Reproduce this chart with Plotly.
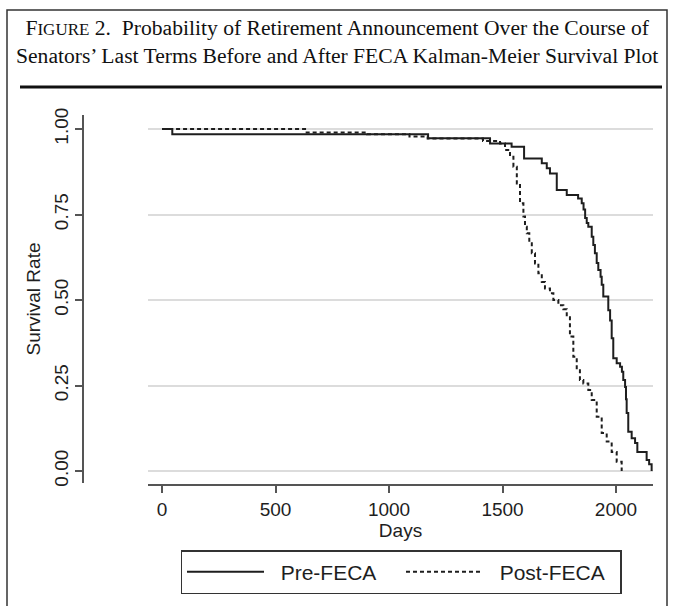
import plotly.graph_objects as go

# ---- data ----
pre_days = [0, 45, 1172, 1445, 1540, 1595, 1673, 1695, 1709, 1739, 1783, 1833, 1849,
            1857, 1864, 1871, 1878, 1893, 1900, 1907, 1915, 1922, 1932, 1937, 1944,
            1966, 1974, 1981, 1988, 2003, 2018, 2026, 2032, 2040, 2044, 2047, 2054,
            2069, 2084, 2094, 2135, 2146, 2157]
pre_surv = [1.0, 0.985, 0.973, 0.958, 0.948, 0.914, 0.900, 0.885, 0.870, 0.822, 0.807, 0.797, 0.783,
            0.765, 0.740, 0.725, 0.714, 0.685, 0.661, 0.637, 0.608, 0.588, 0.568, 0.545, 0.51,
            0.47, 0.44, 0.388, 0.33, 0.315, 0.305, 0.29, 0.266, 0.246, 0.21, 0.17, 0.115,
            0.096, 0.082, 0.056, 0.032, 0.02, 0.0]

post_days = [0, 630, 903, 1090, 1170, 1414, 1489, 1511, 1533, 1548, 1563, 1577, 1592,
             1599, 1607, 1618, 1629, 1643, 1658, 1673, 1687, 1709, 1724, 1746, 1768,
             1783, 1797, 1812, 1827, 1841, 1856, 1878, 1893, 1915, 1937, 1959, 1981,
             2003, 2025]
post_surv = [1.0, 0.99, 0.985, 0.978, 0.972, 0.965, 0.958, 0.939, 0.919, 0.89, 0.841, 0.783, 0.744,
             0.714, 0.695, 0.666, 0.637, 0.607, 0.578, 0.553, 0.534, 0.52, 0.5, 0.485, 0.473,
             0.45, 0.393, 0.334, 0.295, 0.266, 0.256, 0.237, 0.208, 0.159, 0.111, 0.086, 0.056,
             0.027, 0.0]

x_ticks = [0, 500, 1000, 1500, 2000]
y_ticks = [0, 0.25, 0.5, 0.75, 1.0]
y_labels = ["0.00", "0.25", "0.50", "0.75", "1.00"]

series_names = ["Pre-FECA", "Post-FECA"]

W, H = 673, 606
SANS = "Liberation Sans, Arial, sans-serif"
SERIF = "Liberation Serif, Times New Roman, serif"
INK = "#1e1e1e"
AX = "#555555"
NB = "\u00a0\u00a0"

fig = go.Figure()
fig.add_trace(go.Scatter(x=pre_days, y=pre_surv, mode="lines", line_shape="hv",
                         name=NB + series_names[0],
                         line=dict(color=INK, width=2)))
fig.add_trace(go.Scatter(x=post_days, y=post_surv, mode="lines", line_shape="hv",
                         name=NB + series_names[1],
                         line=dict(color=INK, width=2, dash="4px,3px")))

def px_x(p):
    return p / W

def px_y(p):
    return (H - p) / H

fig.update_layout(
    width=W, height=H,
    margin=dict(l=0, r=0, t=0, b=0, autoexpand=False),
    paper_bgcolor="white", plot_bgcolor="white",
    font=dict(family=SANS, size=19, color=INK),
    showlegend=True,
    legend=dict(orientation="h", x=px_x(401), xanchor="center",
                y=px_y(572), yanchor="middle",
                bordercolor="#333333", borderwidth=1.5,
                itemwidth=77, entrywidth=127, font=dict(size=21, color=INK),
                traceorder="normal"),
    xaxis=dict(domain=[px_x(148), px_x(653)], range=[-62, 2163],
               anchor="free", position=px_y(485), automargin=False,
               showline=True, linecolor=AX, linewidth=1.5,
               ticks="outside", ticklen=7, tickcolor=AX, tickwidth=1.5,
               tickvals=x_ticks, ticktext=[str(v) for v in x_ticks],
               showgrid=False, zeroline=False,
               title=dict(text="Days", standoff=2, font=dict(size=19))),
    yaxis=dict(domain=[px_y(483), px_y(115)], range=[-0.035, 1.041],
               anchor="free", position=px_x(83), automargin=False,
               showline=True, linecolor=AX, linewidth=1.5,
               ticks="outside", ticklen=7, tickcolor=AX, tickwidth=1.5,
               tickvals=y_ticks, ticktext=y_labels, tickangle=-90,
               showgrid=True, gridcolor="#dcdcdc", gridwidth=1.5,
               zeroline=False,
               title=dict(text="Survival Rate", standoff=4, font=dict(size=19))),
)

# title block
fig.add_annotation(
    xref="paper", yref="paper", x=0.5, y=px_y(41.5), xanchor="center", yanchor="middle",
    showarrow=False, align="center",
    font=dict(family=SERIF, size=21.6, color="#111111"),
    text=("F<span style='font-size:17px'>IGURE</span> 2.  Probability of Retirement Announcement Over the Course of"
          "<br>Senators\u2019 Last Terms Before and After FECA Kalman-Meier Survival Plot"),
)

# outer frame and rule
fig.add_shape(type="rect", xref="paper", yref="paper",
              x0=px_x(7), x1=px_x(667), y0=-0.02, y1=px_y(10),
              line=dict(color="#333333", width=1.5), fillcolor="rgba(0,0,0,0)")
fig.add_shape(type="line", xref="paper", yref="paper",
              x0=px_x(20), x1=px_x(662), y0=px_y(87), y1=px_y(87),
              line=dict(color="#111111", width=3))

fig.write_html("out.html", config={"displayModeBar": False},
               post_script="document.body.style.margin='0px';")
